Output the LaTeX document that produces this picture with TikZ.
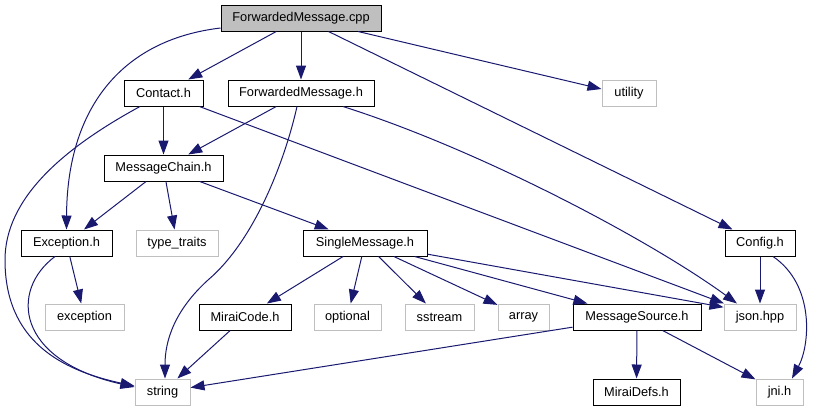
\documentclass[tikz,border=0pt]{standalone}
\usepackage{fontspec}
\setmainfont{Liberation Sans}
\usetikzlibrary{arrows.meta,calc}
\definecolor{edgec}{RGB}{25,25,112}
\definecolor{extgray}{RGB}{191,191,191}
\begin{document}
\begin{tikzpicture}[x=0.75pt,y=-0.75pt,
 box/.style={draw=black,line width=0.75pt,minimum height=19.5pt,inner sep=0pt,font=\fontsize{9.6}{11}\selectfont},
 extbox/.style={box,draw=extgray},
 rootbox/.style={box,fill=extgray},
 edge/.style={draw=edgec,line width=0.75pt,-{Triangle[length=10.5pt,width=7.5pt]}}]
\useasboundingbox (0,0) rectangle (816,411);
\node[rootbox,minimum width=120pt] (cpp) at (301,18) {ForwardedMessage.cpp};
\node[box,minimum width=59.25pt] (contact) at (163.5,93) {Contact.h};
\node[box,minimum width=109.5pt] (fwdh) at (301,93) {ForwardedMessage.h};
\node[extbox,minimum width=40.5pt] (utility) at (629,93) {utility};
\node[box,minimum width=89.25pt] (chain) at (163.5,168) {MessageChain.h};
\node[box,minimum width=68.25pt] (exch) at (66.5,243) {Exception.h};
\node[extbox,minimum width=61.5pt] (traits) at (177,243) {type\_traits};
\node[box,minimum width=93pt] (single) at (365,243) {SingleMessage.h};
\node[box,minimum width=52.5pt] (config) at (760,243) {Config.h};
\node[extbox,minimum width=59.25pt] (exc) at (84.5,317) {exception};
\node[box,minimum width=69pt] (mcode) at (245,317) {MiraiCode.h};
\node[extbox,minimum width=50.25pt] (optional) at (347.5,317) {optional};
\node[extbox,minimum width=51.75pt] (sstream) at (439.5,317) {sstream};
\node[extbox,minimum width=38.25pt] (array) at (523.5,317) {array};
\node[box,minimum width=96pt] (msrc) at (637,317) {MessageSource.h};
\node[extbox,minimum width=54pt] (json) at (760,317) {json.hpp};
\node[extbox,minimum width=41.25pt] (string) at (162.5,392) {string};
\node[box,minimum width=65.25pt] (mdefs) at (636.5,392) {MiraiDefs.h};
\node[extbox,minimum width=35.25pt] (jni) at (779.5,392) {jni.h};

\draw[edge] (cpp) -- (contact);
\draw[edge] (cpp) -- (fwdh);
\draw[edge] (cpp) -- ($(utility.west)+(0,-4)$);
\draw[edge] (cpp) -- (config);
\draw[edge] ($(cpp.west)+(0,10)$) .. controls (120,40) and (67,110) .. (exch.north);
\draw[edge] (contact) -- (chain);
\draw[edge] (contact) -- (json);
\draw[edge] ($(contact.south)+(-23.5,0)$) .. controls (60,150) and (5,200) .. (5,260) .. controls (5,340) and (60,370) .. ($(string.west)+(0,-6)$);
\draw[edge] (fwdh) -- (chain);
\draw[edge] ($(fwdh.south)+(-4,0)$) .. controls (285,160) and (255,240) .. (208,280) .. controls (175,310) and (165,340) .. ($(string.north)+(2.5,0)$);
\draw[edge] ($(fwdh.south)+(42,0)$) .. controls (480,150) and (650,240) .. ($(json.north)+(-23,0)$);
\draw[edge] (chain) -- (exch);
\draw[edge] (chain) -- (traits);
\draw[edge] (chain) -- (single);
\draw[edge] (exch) -- (exc);
\draw[edge] ($(exch.south)+(-11.5,0)$) .. controls (10,290) and (15,360) .. ($(string.west)+(0,-5)$);
\draw[edge] (single) -- (mcode);
\draw[edge] (single) -- (optional);
\draw[edge] (single) -- (sstream);
\draw[edge] (single) -- (array);
\draw[edge] (single) -- (msrc);
\draw[edge] (single) -- (json.165);
\draw[edge] (config) -- (json);
\draw[edge] ($(config.south)+(13,0)$) .. controls (815,285) and (810,345) .. ($(jni.north)+(12.5,0)$);
\draw[edge] (mcode) -- (string);
\draw[edge] (msrc) -- (string);
\draw[edge] (msrc) -- (mdefs);
\draw[edge] (msrc) -- (jni);
\end{tikzpicture}
\end{document}
